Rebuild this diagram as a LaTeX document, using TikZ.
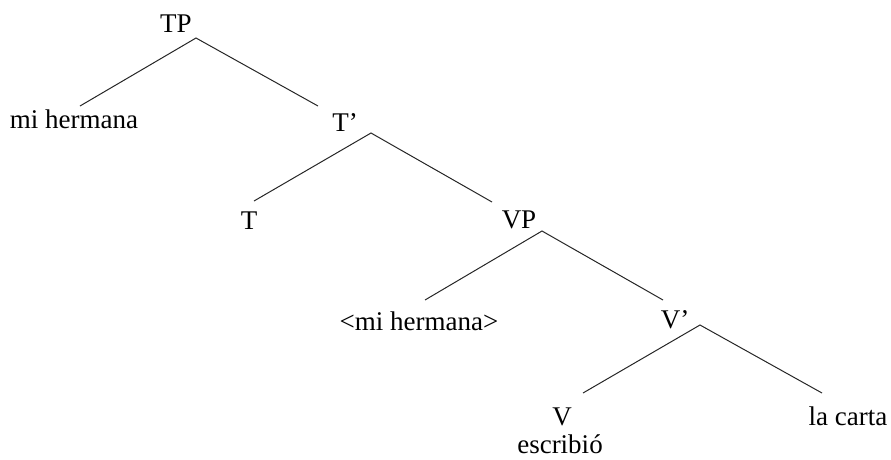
\documentclass[tikz,border=0pt]{standalone}
\usepackage{fontspec}
\setmainfont{Liberation Serif}
\usepackage{tikz}
\usetikzlibrary{positioning}

\begin{document}
\begin{tikzpicture}[x=1pt, y=-1pt, line width=1pt, black!85,
    every node/.style={anchor=base, inner sep=0pt, text=black,
                       font=\fontsize{27}{32}\selectfont}]
    \useasboundingbox (0,0) rectangle (891,459);

    % labels, placed on their baselines
    \node (TP)   at (176,32)  {TP};
    \node (mh)   at (74,128)  {mi hermana};
    \node (Tbar) at (345,131) {T’};
    \node (T)    at (249,229) {T};
    \node (VP)   at (519,228) {VP};
    \node (mht)  at (419,330) {<mi hermana>};
    \node (Vbar) at (675,328) {V’};
    \node (V)    at (562,425) {V};
    \node (esc)  at (560,453) {escribió};
    \node (obj)  at (848,425) {la carta};

    % branches
    \draw ([shift={(-26,-32)}]obj.base) -- ([shift={(25,-3)}]Vbar.base) -- ([shift={(21,-32)}]V.base);
    \draw ([shift={(-12,-28)}]Vbar.base) -- ([shift={(23,3)}]VP.base) -- ([shift={(6,-30)}]mht.base);
    \draw ([shift={(-27,-26)}]VP.base) -- ([shift={(26,2)}]Tbar.base) -- ([shift={(5,-28)}]T.base);
    \draw ([shift={(-27,-25)}]Tbar.base) -- ([shift={(20,6)}]TP.base) -- ([shift={(6,-22)}]mh.base);
\end{tikzpicture}
\end{document}
